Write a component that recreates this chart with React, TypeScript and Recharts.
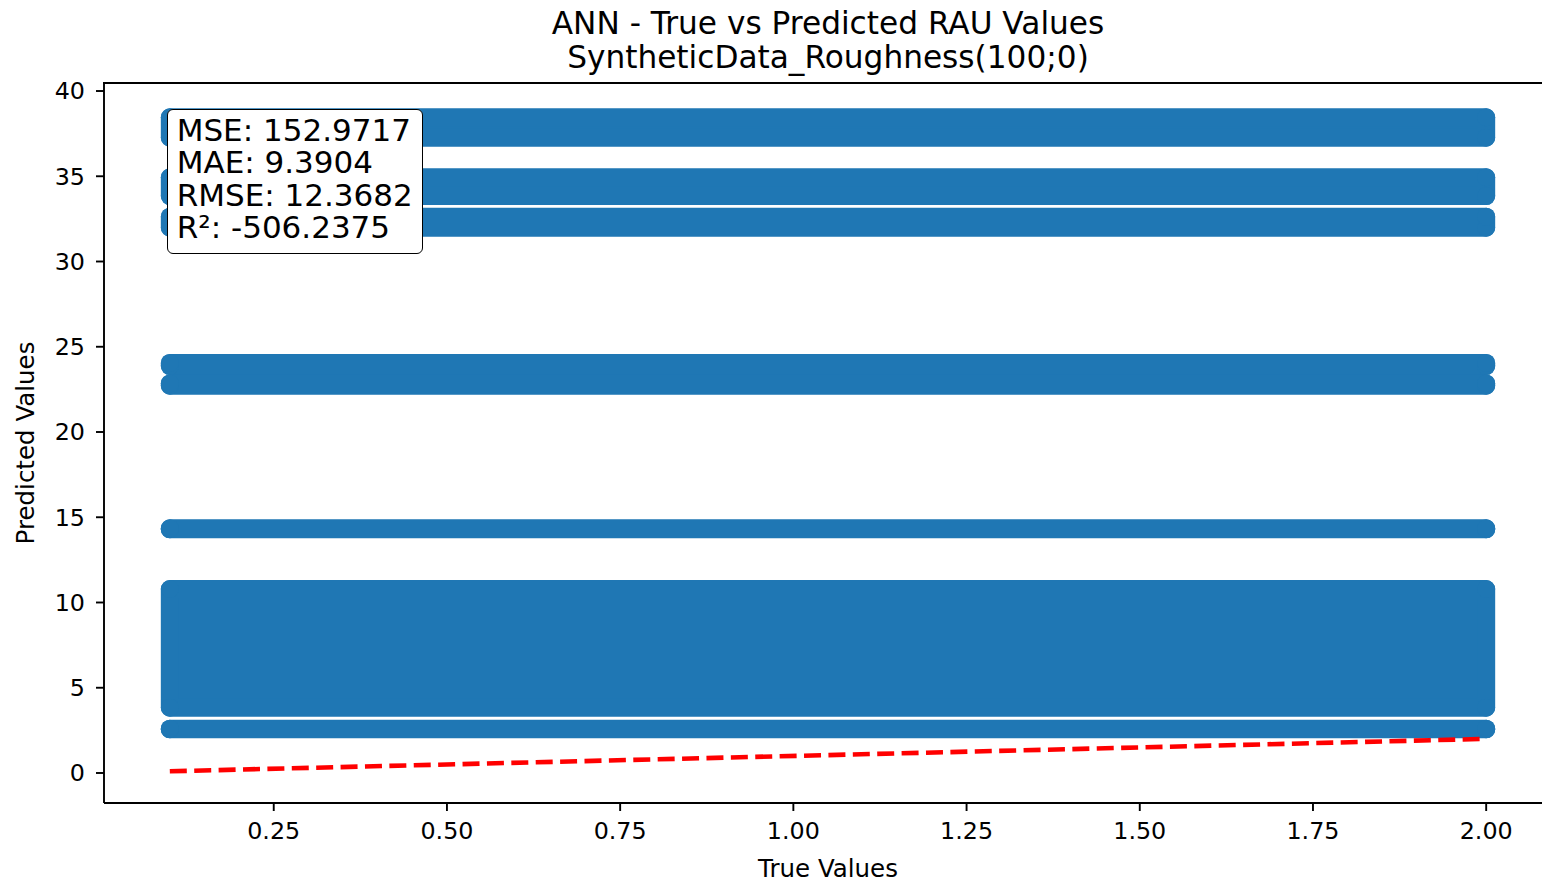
import {
  ComposedChart,
  Line,
  ReferenceArea,
  Scatter,
  XAxis,
  YAxis,
} from "recharts";

// prediction bands (predicted value ranges, all spanning the true range)
const bandLow = [37.26, 33.84, 31.98, 23.87, 22.72, 14.29, 3.83, 2.56];
const bandHigh = [38.46, 34.94, 32.63, 24.05, 22.85, 14.35, 10.79, 2.6];
const trueRange = [0.1, 2.0];
const idealLine = [0.1, 2.0];

const xTicks = [0.25, 0.5, 0.75, 1.0, 1.25, 1.5, 1.75, 2.0];
const yTicks = [0, 5, 10, 15, 20, 25, 30, 35, 40];

const metricNames = ["MSE", "MAE", "RMSE", "R²"];
const metricValues = ["152.9717", "9.3904", "12.3682", "-506.2375"];

const titleLines = [
  "ANN - True vs Predicted RAU Values",
  "SyntheticData_Roughness(100;0)",
];

const BLUE = "#1f77b4";
const FONT = "DejaVu Sans";

const levelPoints = trueRange.flatMap((x) =>
  bandLow.concat(bandHigh).map((y) => ({ x, y })),
);
const lineData = idealLine.map((v) => ({ x: v, y: v }));

const dot = (p: any) => <circle cx={p.cx} cy={p.cy} r={9} fill={BLUE} />;

export default function App() {
  return (
    <div
      style={{
        position: "absolute",
        left: 0,
        top: 0,
        width: 1542,
        height: 884,
        overflow: "hidden",
        background: "#fff",
        fontFamily: FONT,
        color: "#000",
      }}
    >
      <ComposedChart
        width={1560}
        height={884}
        margin={{ top: 83, right: 8, bottom: 0, left: 0 }}
      >
        <XAxis
          type="number"
          dataKey="x"
          domain={[0.005, 2.095]}
          allowDataOverflow
          ticks={xTicks}
          tickFormatter={(v: number) => v.toFixed(2)}
          height={81}
          tickSize={8}
          tickMargin={11}
          axisLine={{ stroke: "#000", strokeWidth: 1.9 }}
          tickLine={{ stroke: "#000", strokeWidth: 1.9 }}
          tick={{ fill: "#000", fontSize: 23.8, fontFamily: FONT }}
          label={{
            value: "True Values",
            position: "insideBottom",
            offset: 7,
            fill: "#000",
            fontSize: 24.5,
            fontFamily: FONT,
          }}
        />
        <YAxis
          type="number"
          dataKey="y"
          domain={[-1.76, 40.47]}
          allowDataOverflow
          ticks={yTicks}
          width={104}
          tickSize={8}
          tickMargin={11}
          axisLine={{ stroke: "#000", strokeWidth: 1.9 }}
          tickLine={{ stroke: "#000", strokeWidth: 1.9 }}
          tick={{ fill: "#000", fontSize: 23.8, fontFamily: FONT }}
        />
        {bandLow.map((lo, i) => (
          <ReferenceArea
            key={i}
            x1={trueRange[0]}
            x2={trueRange[1]}
            y1={lo}
            y2={bandHigh[i]}
            fill={BLUE}
            fillOpacity={1}
            stroke={BLUE}
            strokeWidth={18}
            strokeLinejoin="round"
          />
        ))}
        <Scatter
          data={levelPoints}
          dataKey="y"
          shape={dot}
          isAnimationActive={false}
        />
        <Line
          data={lineData}
          dataKey="y"
          stroke="#ff0000"
          strokeWidth={4.6}
          strokeDasharray="17 7.4"
          dot={false}
          activeDot={false}
          isAnimationActive={false}
        />
      </ComposedChart>

      {/* top spine */}
      <div
        style={{
          position: "absolute",
          left: 103,
          top: 82,
          width: 1460,
          height: 2,
          background: "#000",
        }}
      />

      <div
        style={{
          position: "absolute",
          left: 828,
          top: 6,
          transform: "translateX(-50%)",
          fontSize: 31.2,
          lineHeight: "34px",
          textAlign: "center",
          whiteSpace: "nowrap",
        }}
      >
        {titleLines.map((t) => (
          <div key={t}>{t}</div>
        ))}
      </div>

      <div
        style={{
          position: "absolute",
          left: 25,
          top: 443,
          transform: "translate(-50%, -50%) rotate(-90deg)",
          fontSize: 24.5,
          whiteSpace: "nowrap",
        }}
      >
        Predicted Values
      </div>

      <div
        style={{
          position: "absolute",
          left: 166.7,
          top: 109.3,
          width: 256,
          height: 145,
          boxSizing: "border-box",
          border: "1.8px solid #000",
          borderRadius: 6,
          background: "#fff",
          padding: "4px 0 0 9px",
          fontSize: 31,
          lineHeight: "32.2px",
          whiteSpace: "nowrap",
        }}
      >
        {metricNames.map((n, i) => (
          <div key={n} style={{ height: 32.2 }}>
            {n}: {metricValues[i]}
          </div>
        ))}
      </div>
    </div>
  );
}
